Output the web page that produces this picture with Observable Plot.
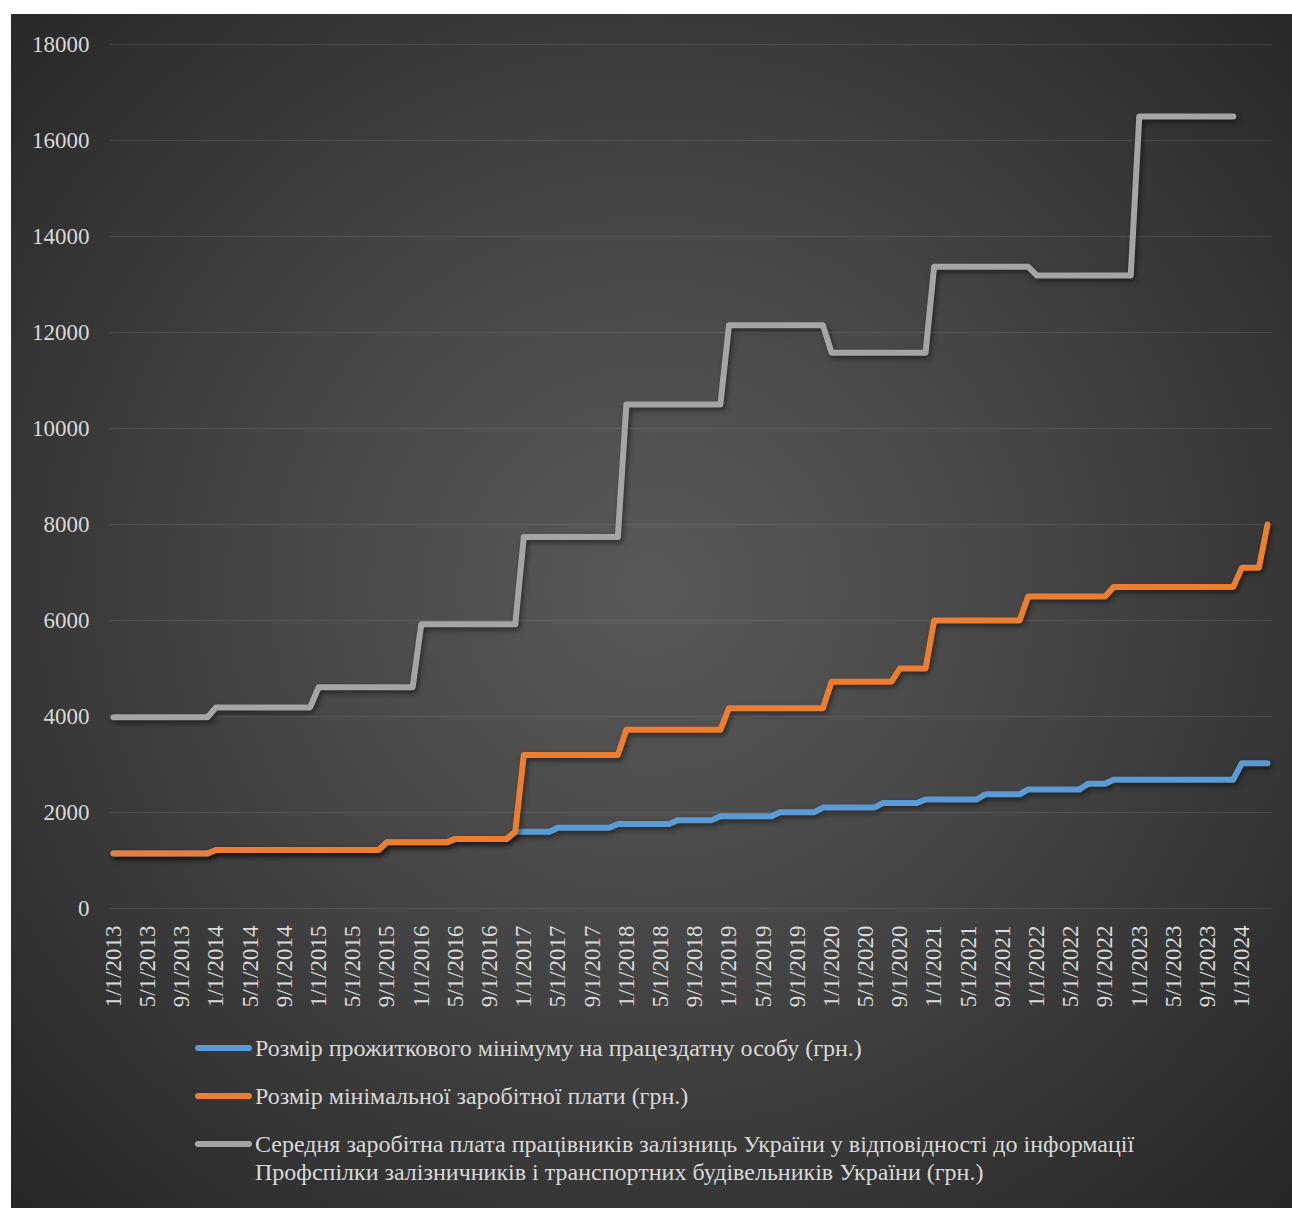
<!DOCTYPE html>
<html>
<head>
<meta charset="utf-8">
<script src="https://cdn.jsdelivr.net/npm/d3@7"></script>
<script src="https://cdn.jsdelivr.net/npm/@observablehq/plot@0.6"></script>
<style>
  body { margin: 0; background: #ffffff; }
  #chart {
    position: absolute; left: 11px; top: 14px; width: 1281px; height: 1194px;
    background: radial-gradient(ellipse farthest-corner at 50% 48%, #595959 0%, #474747 40%, #262626 100%);
    font-family: "Liberation Serif", "Times New Roman", serif;
    overflow: hidden;
  }
  #plot { position: absolute; left: 0; top: 0; }
  #plot svg, #plot svg text { font-family: "Liberation Serif", "Times New Roman", serif !important; }
  #plot svg g[aria-label="line"] { filter: drop-shadow(2px 3px 2.5px rgba(0,0,0,0.45)); }
  .item { position: absolute; left: 184px; color: #d9d9d9; font-size: 24px; line-height: 28px; white-space: nowrap; }
  .sw { position: absolute; left: 0; width: 57px; height: 6px; border-radius: 3px; }
  .txt { position: absolute; left: 60px; top: 0; }
</style>
</head>
<body>
<div id="chart">
  <div id="plot"></div>
  <div id="legend"></div>
</div>
<script>
// ---- Data (monthly, Jan 2013 – Apr 2024) ----
const seriesNames = [
  "Розмір прожиткового мінімуму на працездатну особу (грн.)",
  "Розмір мінімальної заробітної плати (грн.)",
  "Середня заробітна плата працівників залізниць України у відповідності до інформації Профспілки залізничників і транспортних будівельників України (грн.)"
];
const seriesColors = ["#5B9BD5", "#ED7D31", "#A5A5A5"];

const subsistence = [
  1147,1147,1147,1147,1147,1147,1147,1147,1147,1147,1147,1147, // 2013
  1218,1218,1218,1218,1218,1218,1218,1218,1218,1218,1218,1218, // 2014
  1218,1218,1218,1218,1218,1218,1218,1218,1378,1378,1378,1378, // 2015
  1378,1378,1378,1378,1450,1450,1450,1450,1450,1450,1450,1600, // 2016
  1600,1600,1600,1600,1684,1684,1684,1684,1684,1684,1684,1762, // 2017
  1762,1762,1762,1762,1762,1762,1841,1841,1841,1841,1841,1921, // 2018
  1921,1921,1921,1921,1921,1921,2007,2007,2007,2007,2007,2102, // 2019
  2102,2102,2102,2102,2102,2102,2197,2197,2197,2197,2197,2270, // 2020
  2270,2270,2270,2270,2270,2270,2379,2379,2379,2379,2379,2481, // 2021
  2481,2481,2481,2481,2481,2481,2600,2600,2600,2684,2684,2684, // 2022
  2684,2684,2684,2684,2684,2684,2684,2684,2684,2684,2684,2684, // 2023
  3028,3028,3028,3028                                          // 2024
];
const minWage = [
  1147,1147,1147,1147,1147,1147,1147,1147,1147,1147,1147,1147, // 2013
  1218,1218,1218,1218,1218,1218,1218,1218,1218,1218,1218,1218, // 2014
  1218,1218,1218,1218,1218,1218,1218,1218,1378,1378,1378,1378, // 2015
  1378,1378,1378,1378,1450,1450,1450,1450,1450,1450,1450,1600, // 2016
  3200,3200,3200,3200,3200,3200,3200,3200,3200,3200,3200,3200, // 2017
  3723,3723,3723,3723,3723,3723,3723,3723,3723,3723,3723,3723, // 2018
  4173,4173,4173,4173,4173,4173,4173,4173,4173,4173,4173,4173, // 2019
  4723,4723,4723,4723,4723,4723,4723,4723,5000,5000,5000,5000, // 2020
  6000,6000,6000,6000,6000,6000,6000,6000,6000,6000,6000,6500, // 2021
  6500,6500,6500,6500,6500,6500,6500,6500,6500,6700,6700,6700, // 2022
  6700,6700,6700,6700,6700,6700,6700,6700,6700,6700,6700,6700, // 2023
  7100,7100,7100,8000                                          // 2024
];
const railWage = [
  3985,3985,3985,3985,3985,3985,3985,3985,3985,3985,3985,3985, // 2013
  4190,4190,4190,4190,4190,4190,4190,4190,4190,4190,4190,4190, // 2014
  4610,4610,4610,4610,4610,4610,4610,4610,4610,4610,4610,4610, // 2015
  5920,5920,5920,5920,5920,5920,5920,5920,5920,5920,5920,5920, // 2016
  7740,7740,7740,7740,7740,7740,7740,7740,7740,7740,7740,7740, // 2017
  10500,10500,10500,10500,10500,10500,10500,10500,10500,10500,10500,10500, // 2018
  12150,12150,12150,12150,12150,12150,12150,12150,12150,12150,12150,12150, // 2019
  11580,11580,11580,11580,11580,11580,11580,11580,11580,11580,11580,11580, // 2020
  13370,13370,13370,13370,13370,13370,13370,13370,13370,13370,13370,13370, // 2021
  13190,13190,13190,13190,13190,13190,13190,13190,13190,13190,13190,13190, // 2022
  16500,16500,16500,16500,16500,16500,16500,16500,16500,16500,16500,16500, // 2023
  null,null,null,null                                          // 2024
];

const xTickLabels = [
  "1/1/2013","5/1/2013","9/1/2013","1/1/2014","5/1/2014","9/1/2014",
  "1/1/2015","5/1/2015","9/1/2015","1/1/2016","5/1/2016","9/1/2016",
  "1/1/2017","5/1/2017","9/1/2017","1/1/2018","5/1/2018","9/1/2018",
  "1/1/2019","5/1/2019","9/1/2019","1/1/2020","5/1/2020","9/1/2020",
  "1/1/2021","5/1/2021","9/1/2021","1/1/2022","5/1/2022","9/1/2022",
  "1/1/2023","5/1/2023","9/1/2023","1/1/2024"
];
const yTicks = [0,2000,4000,6000,8000,10000,12000,14000,16000,18000];

// ---- Build tables ----
const allSeries = [subsistence, minWage, railWage];
const tables = allSeries.map((arr, k) =>
  arr.map((v, i) => ({i, v, s: seriesNames[k]})).filter(d => d.v != null)
);
const xTickIdx = xTickLabels.map((_, j) => j * 4);
const serif = "Liberation Serif";

const plot = Plot.plot({
  width: 1281,
  height: 1020,
  marginTop: 30,
  marginBottom: 126,
  marginLeft: 99,
  marginRight: 20,
  insetLeft: 3,
  insetRight: 5,
  style: {
    background: "transparent",
    color: "#d9d9d9",
    fontSize: "23px",
    fontFamily: serif,
    overflow: "visible"
  },
  x: {type: "linear", domain: [0, subsistence.length - 1]},
  y: {domain: [0, 18000]},
  color: {domain: seriesNames, range: seriesColors},
  marks: [
    Plot.ruleY(yTicks, {stroke: "#ffffff", strokeOpacity: 0.09, strokeWidth: 1.5}),
    Plot.axisY({ticks: yTicks, tickSize: 0, tickPadding: 21, label: null, tickFormat: d => String(d),
                fontFamily: serif, fontSize: 23}),
    Plot.axisX({ticks: xTickIdx, tickFormat: d => xTickLabels[d / 4], tickRotate: -90,
                tickSize: 0, tickPadding: 17, label: null, fontFamily: serif, fontSize: 23}),
    ...tables.map(t => Plot.line(t, {
      x: "i", y: "v", stroke: "s", strokeWidth: 6,
      strokeLinecap: "round", strokeLinejoin: "round"
    }))
  ]
});
plot.querySelectorAll("text").forEach(t => t.style.fontFamily = '"Liberation Serif", serif');
document.getElementById("plot").appendChild(plot);

// ---- Legend (HTML, below the SVG) ----
const legendTops = [1020, 1068, 1116];
const legendTexts = [
  seriesNames[0],
  seriesNames[1],
  "Середня заробітна плата працівників залізниць України у відповідності до інформації<br>Профспілки залізничників і транспортних будівельників України (грн.)"
];
const legend = document.getElementById("legend");
legendTexts.forEach((t, k) => {
  const item = document.createElement("div");
  item.className = "item";
  item.style.top = legendTops[k] + "px";
  item.innerHTML = `<span class="sw" style="background:${seriesColors[k]};top:11px"></span><span class="txt">${t}</span>`;
  legend.appendChild(item);
});
</script>
</body>
</html>
